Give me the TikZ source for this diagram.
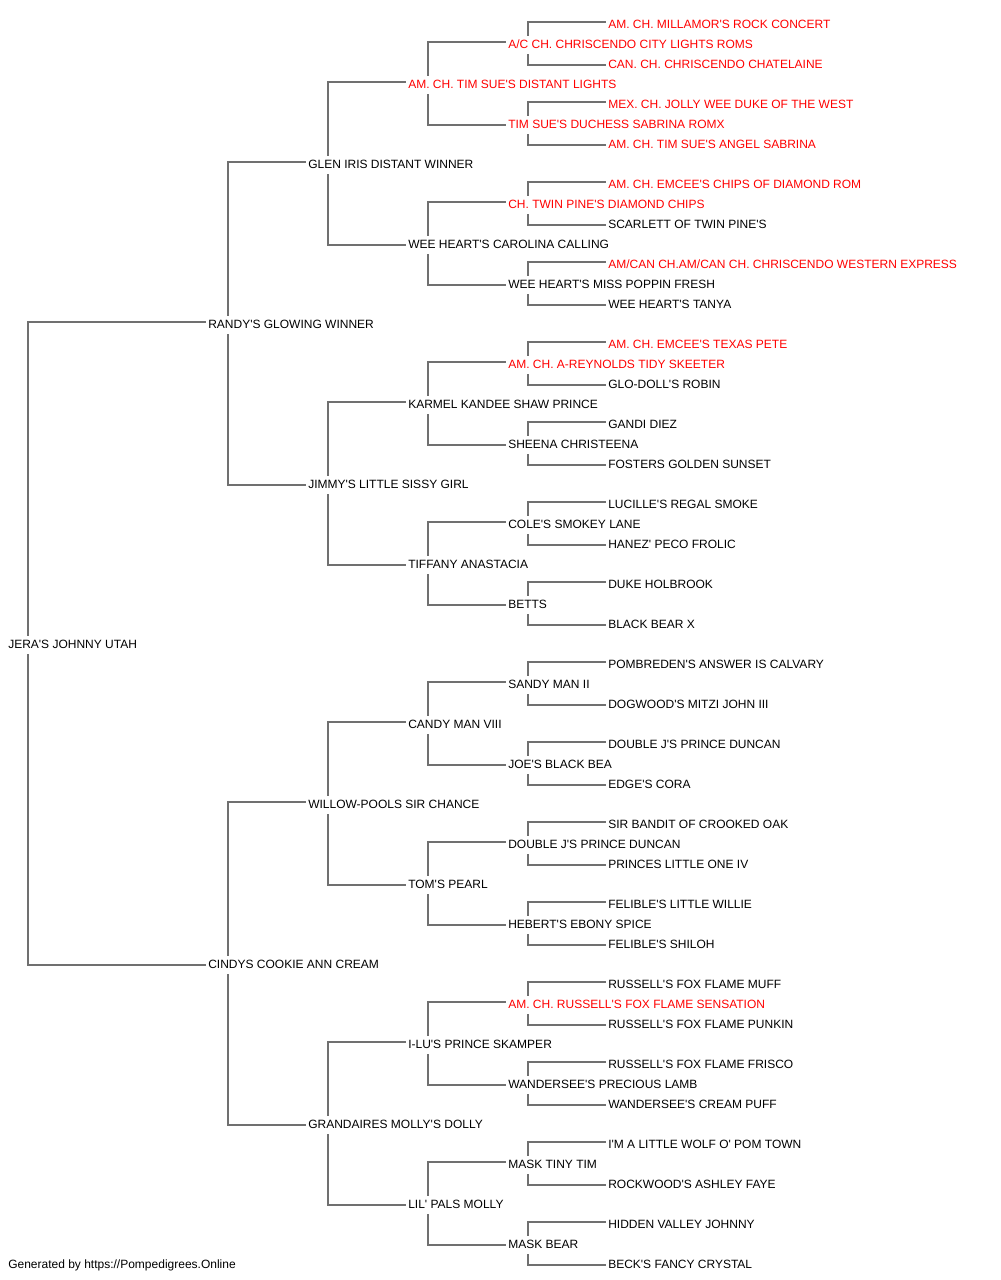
\documentclass[tikz,border=0pt]{standalone}
\usepackage{fontspec}
\newfontfamily\pedfont{Liberation Sans}
\usetikzlibrary{backgrounds}
\definecolor{champred}{HTML}{FF0000}
\definecolor{lineg}{HTML}{707070}
\begin{document}
\begin{tikzpicture}[x=0.75pt,y=-0.75pt,
  ped/.style={anchor=base west, yshift=-4.2pt, fill=white, inner xsep=1.5pt, inner ysep=2pt,
    text height=7.6pt, text depth=1.9pt, font=\pedfont\fontsize{9}{11}\selectfont, text=black},
  champ/.style={ped, text=champred},
  conn/.style={draw=lineg, line width=1.3pt}]
\useasboundingbox (0,0) rectangle (1000,1280);
% generation 0
\node[ped] (p1) at (6,643) {JERA'S JOHNNY UTAH};
% generation 1
\node[ped] (p2) at (206,323) {RANDY'S GLOWING WINNER};
\node[ped] (p3) at (206,963) {CINDYS COOKIE ANN CREAM};
% generation 2
\node[ped] (p4) at (306,163) {GLEN IRIS DISTANT WINNER};
\node[ped] (p5) at (306,483) {JIMMY'S LITTLE SISSY GIRL};
\node[ped] (p6) at (306,803) {WILLOW-POOLS SIR CHANCE};
\node[ped] (p7) at (306,1123) {GRANDAIRES MOLLY'S DOLLY};
% generation 3
\node[champ] (p8) at (406,83) {AM. CH. TIM SUE'S DISTANT LIGHTS};
\node[ped] (p9) at (406,243) {WEE HEART'S CAROLINA CALLING};
\node[ped] (p10) at (406,403) {KARMEL KANDEE SHAW PRINCE};
\node[ped] (p11) at (406,563) {TIFFANY ANASTACIA};
\node[ped] (p12) at (406,723) {CANDY MAN VIII};
\node[ped] (p13) at (406,883) {TOM'S PEARL};
\node[ped] (p14) at (406,1043) {I-LU'S PRINCE SKAMPER};
\node[ped] (p15) at (406,1203) {LIL' PALS MOLLY};
% generation 4
\node[champ] (p16) at (506,43) {A/C CH. CHRISCENDO CITY LIGHTS ROMS};
\node[champ] (p17) at (506,123) {TIM SUE'S DUCHESS SABRINA ROMX};
\node[champ] (p18) at (506,203) {CH. TWIN PINE'S DIAMOND CHIPS};
\node[ped] (p19) at (506,283) {WEE HEART'S MISS POPPIN FRESH};
\node[champ] (p20) at (506,363) {AM. CH. A-REYNOLDS TIDY SKEETER};
\node[ped] (p21) at (506,443) {SHEENA CHRISTEENA};
\node[ped] (p22) at (506,523) {COLE'S SMOKEY LANE};
\node[ped] (p23) at (506,603) {BETTS};
\node[ped] (p24) at (506,683) {SANDY MAN II};
\node[ped] (p25) at (506,763) {JOE'S BLACK BEA};
\node[ped] (p26) at (506,843) {DOUBLE J'S PRINCE DUNCAN};
\node[ped] (p27) at (506,923) {HEBERT'S EBONY SPICE};
\node[champ] (p28) at (506,1003) {AM. CH. RUSSELL'S FOX FLAME SENSATION};
\node[ped] (p29) at (506,1083) {WANDERSEE'S PRECIOUS LAMB};
\node[ped] (p30) at (506,1163) {MASK TINY TIM};
\node[ped] (p31) at (506,1243) {MASK BEAR};
% generation 5
\node[champ] (p32) at (606,23) {AM. CH. MILLAMOR'S ROCK CONCERT};
\node[champ] (p33) at (606,63) {CAN. CH. CHRISCENDO CHATELAINE};
\node[champ] (p34) at (606,103) {MEX. CH. JOLLY WEE DUKE OF THE WEST};
\node[champ] (p35) at (606,143) {AM. CH. TIM SUE'S ANGEL SABRINA};
\node[champ] (p36) at (606,183) {AM. CH. EMCEE'S CHIPS OF DIAMOND ROM};
\node[ped] (p37) at (606,223) {SCARLETT OF TWIN PINE'S};
\node[champ] (p38) at (606,263) {AM/CAN CH.AM/CAN CH. CHRISCENDO WESTERN EXPRESS};
\node[ped] (p39) at (606,303) {WEE HEART'S TANYA};
\node[champ] (p40) at (606,343) {AM. CH. EMCEE'S TEXAS PETE};
\node[ped] (p41) at (606,383) {GLO-DOLL'S ROBIN};
\node[ped] (p42) at (606,423) {GANDI DIEZ};
\node[ped] (p43) at (606,463) {FOSTERS GOLDEN SUNSET};
\node[ped] (p44) at (606,503) {LUCILLE'S REGAL SMOKE};
\node[ped] (p45) at (606,543) {HANEZ' PECO FROLIC};
\node[ped] (p46) at (606,583) {DUKE HOLBROOK};
\node[ped] (p47) at (606,623) {BLACK BEAR X};
\node[ped] (p48) at (606,663) {POMBREDEN'S ANSWER IS CALVARY};
\node[ped] (p49) at (606,703) {DOGWOOD'S MITZI JOHN III};
\node[ped] (p50) at (606,743) {DOUBLE J'S PRINCE DUNCAN};
\node[ped] (p51) at (606,783) {EDGE'S CORA};
\node[ped] (p52) at (606,823) {SIR BANDIT OF CROOKED OAK};
\node[ped] (p53) at (606,863) {PRINCES LITTLE ONE IV};
\node[ped] (p54) at (606,903) {FELIBLE'S LITTLE WILLIE};
\node[ped] (p55) at (606,943) {FELIBLE'S SHILOH};
\node[ped] (p56) at (606,983) {RUSSELL'S FOX FLAME MUFF};
\node[ped] (p57) at (606,1023) {RUSSELL'S FOX FLAME PUNKIN};
\node[ped] (p58) at (606,1063) {RUSSELL'S FOX FLAME FRISCO};
\node[ped] (p59) at (606,1103) {WANDERSEE'S CREAM PUFF};
\node[ped] (p60) at (606,1143) {I'M A LITTLE WOLF O' POM TOWN};
\node[ped] (p61) at (606,1183) {ROCKWOOD'S ASHLEY FAYE};
\node[ped] (p62) at (606,1223) {HIDDEN VALLEY JOHNNY};
\node[ped] (p63) at (606,1263) {BECK'S FANCY CRYSTAL};
% footer
\node[ped] (foot) at (6,1263) {Generated by https://Pompedigrees.Online};
% connectors
\begin{pgfonlayer}{background}
\foreach \k in {1,...,31}{
  \pgfmathtruncatemacro{\s}{2*\k}
  \pgfmathtruncatemacro{\d}{2*\k+1}
  \draw[conn] ([yshift=1.85pt]p\s.west) -| ([xshift=16.5pt]p\k.west) |- ([yshift=0.1pt]p\d.west);
}
\end{pgfonlayer}
\end{tikzpicture}
\end{document}
